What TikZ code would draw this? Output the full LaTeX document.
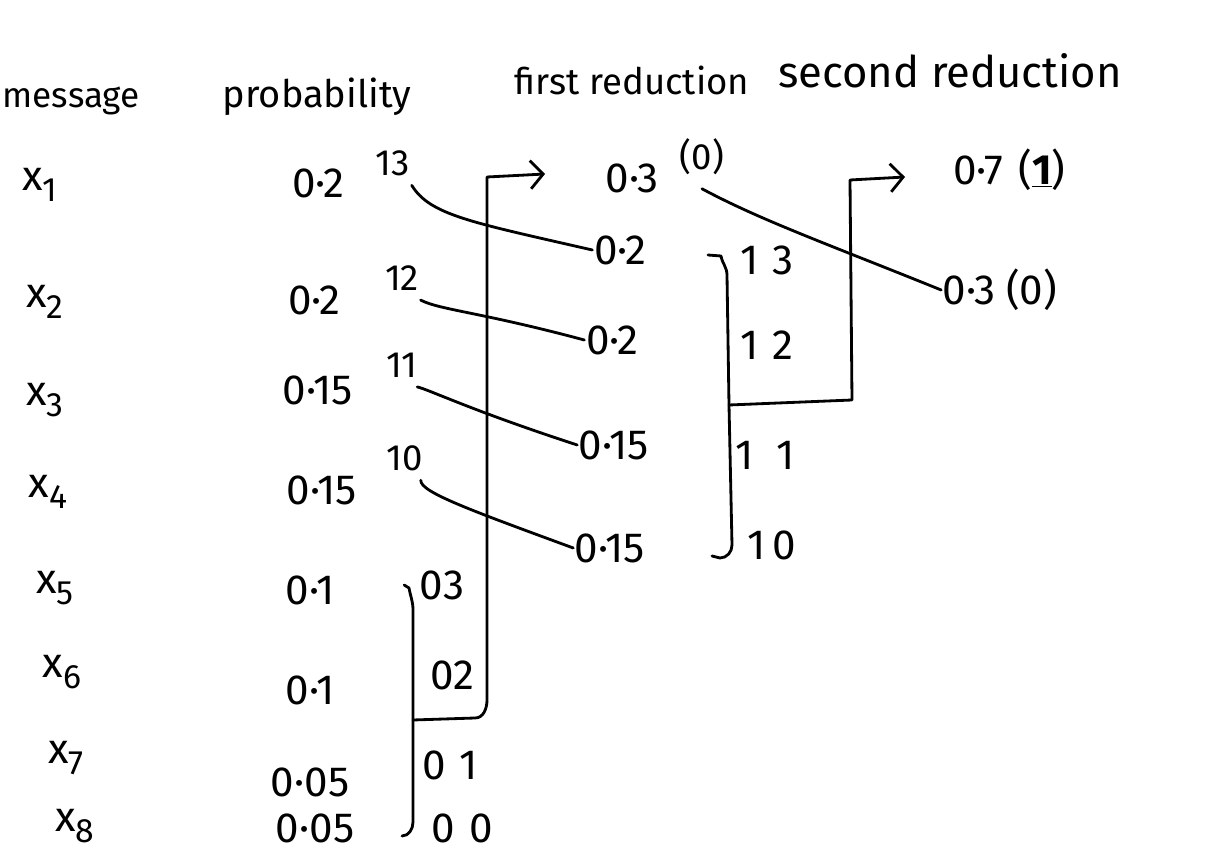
\documentclass[tikz,border=0pt]{standalone}
\usepackage{fontspec}
\setmainfont{Fira Sans}
\usetikzlibrary{arrows.meta}
\newcommand\xsub[1]{x\raisebox{-0.25em}{\fontsize{24}{26}\selectfont #1}}
\begin{document}
\begin{tikzpicture}[x=0.025cm,y=-0.025cm,
  txt/.style={inner sep=1pt, font=\fontsize{30}{34}\selectfont},
  hdr/.style={inner sep=1pt, font=\fontsize{27}{30}\selectfont},
  sml/.style={inner sep=1pt, font=\fontsize{26}{28}\selectfont},
  link/.style={line width=2pt, line cap=round, line join=round},
  arr/.style={link, -{Straight Barb[length=9pt,width=20pt,line width=2pt]}}]
\useasboundingbox (0,0) rectangle (1219,852);
% headers
\node[hdr, anchor=base west, font=\fontsize{25}{30}\selectfont] (hm) at (1,108) {message};
\node[hdr, anchor=base] (hp) at (317,108) {probability};
\node[hdr, anchor=base, font=\fontsize{26}{30}\selectfont] (hf) at (632,95) {first reduction};
\node[hdr, anchor=base, font=\fontsize{31}{34}\selectfont] (hs) at (950,88) {second reduction};
% messages
\node[txt] (m1) at (40,185) {\xsub{1}};
\node[txt] (m2) at (45,302) {\xsub{2}};
\node[txt] (m3) at (45,400) {\xsub{3}};
\node[txt] (m4) at (48,492) {\xsub{4}};
\node[txt] (m5) at (55,588) {\xsub{5}};
\node[txt] (m6) at (62,672) {\xsub{6}};
\node[txt] (m7) at (66,758) {\xsub{7}};
\node[txt] (m8) at (75,826) {\xsub{8}};
% probabilities
\node[txt] (p1) at (318,183) {0·2};
\node[txt] (p2) at (314,300) {0·2};
\node[txt] (p3) at (318,390) {0·15};
\node[txt] (p4) at (322,490) {0·15};
\node[txt] (p5) at (310,590) {0·1};
\node[txt] (p6) at (310,690) {0·1};
\node[txt] (p7) at (310,782) {0·05};
\node[txt] (p8) at (315,828) {0·05};
% codes after probabilities
\node[sml] (c13) at (393,163) {13};
\node[sml] (c12) at (402,278) {12};
\node[sml] (c11) at (402,365) {11};
\node[sml] (c10) at (405,458) {10};
\node[txt] (c03) at (442,585) {03};
\node[txt] (c02) at (452,675) {02};
\node[txt] (c01) at (450,765) {0\,\,1};
\node[txt] (c00) at (462,828) {0\,\,0};
% first reduction
\node[txt] (f1) at (632,178) {0·3};
\node[sml] (f1c) at (702,157) {(0)};
\node[txt] (f2) at (620,250) {0·2};
\node[txt] (f3) at (612,340) {0·2};
\node[txt] (f4) at (614,445) {0·15};
\node[txt] (f5) at (610,548) {0·15};
\node[txt] (d13) at (767,260) {1\,\,3};
\node[txt] (d12) at (767,345) {1\,\,2};
\node[txt] (d11) at (765,455) {1\;\;1};
\node[txt] (d10) at (772,545) {1\,0};
% second reduction
\node[txt] (s1) at (978,170) {0·7};
\node[txt] (s1c) at (1042,170) {(\underline{\textbf{1}})};
\node[txt] (s2) at (1000,290) {0·3 (0)};
% links from probabilities to first reduction
\draw[link] (c13.south east) ++(0,8) .. controls (430,215) and (470,222) .. (f2.west);
\draw[link] (c12.south east) ++(0,8) .. controls (440,310) and (480,312) .. (f3.west);
\draw[link] (c11.south east) ++(-2,8) .. controls (430,390) and (470,410) .. (f4.west);
\draw[link] (c10.south east) ++(-4,8) .. controls (420,492) and (470,510) .. (f5.west);
% bracket for x5..x8
\coordinate (ja) at (413,720);
\draw[link] ([xshift=-10pt]c03.west) -- (409,588) to[out=-80,in=90] (413,610) -- (ja) -- (413,822) to[out=-90,in=0] (402,836);
\draw[arr] (ja) -- (475,718) to[out=0,in=-90] (487,700) -- (487,177) -- (545,174);
% bracket for first reduction
\coordinate (jb) at (729,405);
\draw[link] (708,255) -- (721,256) to[out=-80,in=90] (727,275) -- (jb) -- (732,545) to[out=-90,in=0] (720,558) -- (712,556);
\draw[arr] (jb) -- (852,400) -- (850,180) -- (905,177);
% link to second reduction
\draw[link] (f1c.south) ++(0,12) .. controls (760,220) and (830,245) .. (s2.west);
\end{tikzpicture}
\end{document}
